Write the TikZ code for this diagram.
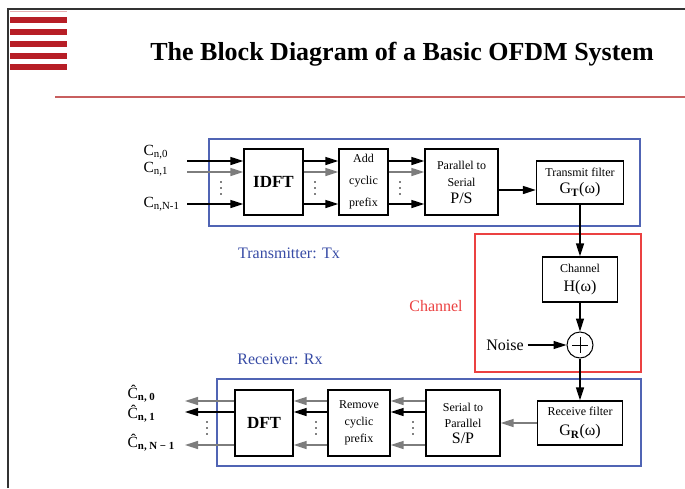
\documentclass[tikz,border=0pt]{standalone}
\usepackage{fontspec}
\setmainfont{Liberation Serif}
\usetikzlibrary{arrows.meta,calc}

\definecolor{slidered}{RGB}{183,30,38}
\definecolor{rulered}{RGB}{200,95,95}
\definecolor{txblue}{RGB}{80,100,180}
\definecolor{lblblue}{RGB}{55,75,165}
\definecolor{chred}{RGB}{235,65,65}
\definecolor{linegray}{RGB}{125,125,125}

\begin{document}
\begin{tikzpicture}[x=1pt,y=-1pt, line width=1.3pt]
                \tikzstyle{block} = [draw, line width=1.3pt, rectangle, inner sep=1pt, align=center, font=\fontsize{12}{15}\selectfont]
                \tikzstyle{frame} = [draw, line width=1.1pt]
                \tikzstyle{sig} = [-{Triangle[length=13pt,width=8pt]}, line width=1.4pt]
                \tikzstyle{big} = [font=\fontsize{15.5}{17}\selectfont, inner sep=0pt]
                \tikzstyle{lbl} = [font=\fontsize{16}{18}\selectfont]
                \useasboundingbox (0,0) rectangle (685,488);

                % Slide decoration
                \draw[slidered!35, line width=1pt] (10,11) -- (67,11);
                \foreach \yy in {20,32,44,56,67}
                    \fill[slidered] (10,\yy-2.8) rectangle (67,\yy+2.8);
                \draw[line width=2.5pt, black!80] (8,488) -- (8,9) -- (685,9);
                \node[font=\bfseries\fontsize{26}{30}\selectfont] (title) at (402,54) {The Block Diagram of a Basic OFDM System};
                \draw[rulered, line width=1.2pt] (55,97) -- (685,97);

                % Frames
                \draw[frame, txblue] (209,139) rectangle (640,226);
                \draw[frame, chred] (475,234) rectangle (641,372);
                \draw[frame, txblue] (217,379) rectangle (641,466);
                \node[lbl, lblblue] (txlab) at (289,253) {Transmitter: Tx};
                \node[lbl, lblblue] (rxlab) at (280,359) {Receiver: Rx};
                \node[lbl, chred] (chlab) at (436,306) {Channel};

                % Transmitter blocks
                \node[block, minimum width=59, minimum height=66] (idft) at (273.5,182) {\bfseries\fontsize{17}{18}\selectfont IDFT};
                \node[block, minimum width=49, minimum height=66, font=\fontsize{12}{22}\selectfont] (addcp) at (363.5,182) {Add\\cyclic\\prefix};
                \node[block, minimum width=73, minimum height=66, font=\fontsize{12}{17}\selectfont] (ps) at (461.5,182) {Parallel to\\Serial\\{\fontsize{16}{17}\selectfont P/S}};
                \node[block, minimum width=87, minimum height=43, font=\fontsize{12}{17}\selectfont] (txf) at (580,182.5) {Transmit filter\\{\fontsize{16}{17}\selectfont G\textsubscript{\textbf{T}}(ω)}};

                % Channel
                \node[block, minimum width=75, minimum height=45, font=\fontsize{12}{19}\selectfont] (chan) at (580,279.5) {Channel\\{\fontsize{16}{17}\selectfont H(ω)}};
                \node[draw, circle, line width=1pt, minimum size=26, inner sep=0pt] (adder) at (580,345) {};
                \draw[line width=0.9pt] ($(adder.center)+(-8,0)$) -- ($(adder.center)+(8,0)$);
                \draw[line width=0.9pt] ($(adder.center)+(0,-8)$) -- ($(adder.center)+(0,8)$);
                \node[lbl] (noise) at (505,345) {Noise};

                % Receiver blocks
                \node[block, minimum width=85, minimum height=44, font=\fontsize{12}{20}\selectfont] (rxf) at (580,423) {Receive filter\\{\fontsize{16}{17}\selectfont G\textsubscript{\textbf{R}}(ω)}};
                \node[block, minimum width=74, minimum height=66, font=\fontsize{12}{16}\selectfont] (sp) at (463,423) {Serial to\\Parallel\\{\fontsize{16}{17}\selectfont S/P}};
                \node[block, minimum width=62, minimum height=66, font=\fontsize{12}{17}\selectfont] (rmv) at (359,423) {Remove\\cyclic\\prefix};
                \node[block, minimum width=58, minimum height=66] (dft) at (264,423) {\bfseries\fontsize{17}{18}\selectfont DFT};

                % Inputs
                \coordinate (src) at (187,182);
                \node[anchor=west, big] (cin0) at (143,152) {C\textsubscript{n,0}};
                \node[anchor=west, big] (cin1) at (143,169) {C\textsubscript{n,1}};
                \node[anchor=west, big] (cinN) at (143,204) {C\textsubscript{n,N-1}};
                \foreach \dy/\col in {-21/black, -10/linegray, 22/black}
                    \draw[sig, \col] ($(src)+(0,\dy)$) -- ($(idft.west)+(0,\dy)$);

                % Transmitter rails
                \foreach \dy/\col in {-21/black, -10/linegray, 22/black} {
                    \draw[sig, \col] ($(idft.east)+(0,\dy)$) -- ($(addcp.west)+(0,\dy)$);
                    \draw[sig, \col] ($(addcp.east)+(0,\dy)$) -- ($(ps.west)+(0,\dy)$);
                }
                \draw[sig] ($(ps.east)+(0,8)$) -- ($(txf.west)+(0,7.5)$);

                % Through the channel
                \draw[sig] (txf) -- (chan);
                \draw[sig] (chan) -- (adder);
                \draw[sig] (noise) -- (adder);
                \draw[sig] (adder) -- (rxf);
                \draw[sig, linegray] (rxf) -- (sp);

                % Receiver rails
                \foreach \dy/\col in {-22/linegray, -11/black, 22/linegray} {
                    \draw[sig, \col] ($(sp.west)+(0,\dy)$) -- ($(rmv.east)+(0,\dy)$);
                    \draw[sig, \col] ($(rmv.west)+(0,\dy)$) -- ($(dft.east)+(0,\dy)$);
                }

                % Outputs
                \coordinate (sink) at (185,423);
                \foreach \dy/\col in {-22/linegray, -11/black, 22/linegray}
                    \draw[sig, \col] ($(dft.west)+(0,\dy)$) -- ($(sink)+(0,\dy)$);
                \node[anchor=west, big] (cout0) at (127,394) {\^{C}\textsubscript{\textbf{n, 0}}};
                \node[anchor=west, big] (cout1) at (127,414) {\^{C}\textsubscript{\textbf{n, 1}}};
                \node[anchor=west, big] (coutN) at (127,443) {\^{C}\textsubscript{\textbf{n, N − 1}}};

                % Dots
                \foreach \xx in {221,315,400}
                    \foreach \yy in {182,188,194}
                        \fill (\xx,\yy) circle (0.9pt);
                \foreach \xx in {207,316,413}
                    \foreach \yy in {422,428,434}
                        \fill (\xx,\yy) circle (0.9pt);
            \end{tikzpicture}
\end{document}
